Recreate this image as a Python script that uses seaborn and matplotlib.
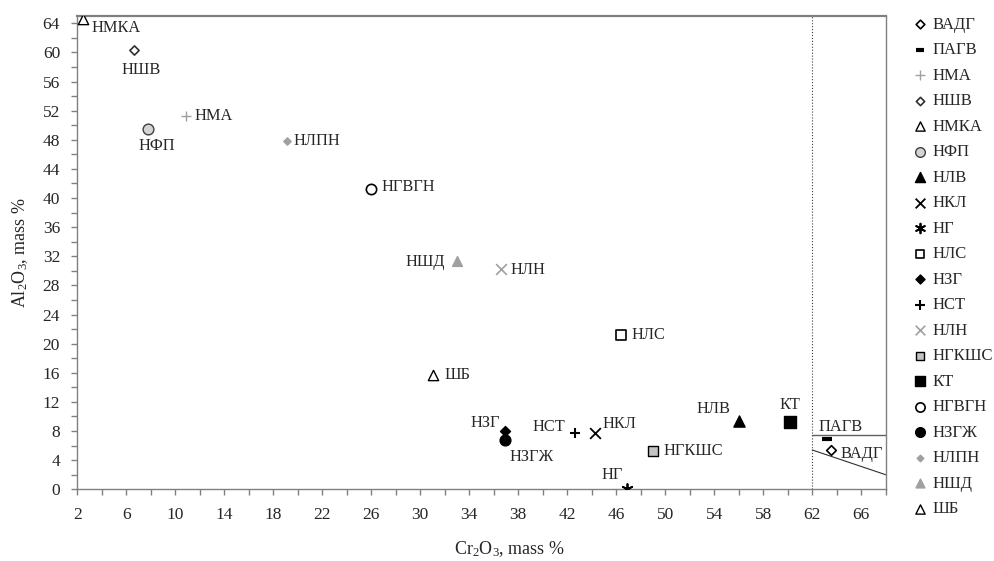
import numpy as np
import pandas as pd
import seaborn as sns
import matplotlib.pyplot as plt
from matplotlib.ticker import MultipleLocator, FixedLocator

# chromite groups (legend order)
names = ['ВАДГ', 'ПАГВ', 'НМА', 'НШВ', 'НМКА', 'НФП', 'НЛВ', 'НКЛ', 'НГ', 'НЛС',
         'НЗГ', 'НСТ', 'НЛН', 'НГКШС', 'КТ', 'НГВГН', 'НЗГЖ', 'НЛПН', 'НШД', 'ШБ']
cr2o3 = [63.5, 63.2, 10.9, 6.6, 2.5, 7.8, 56.0, 44.3, 46.9, 46.4,
         36.9, 42.6, 36.6, 49.0, 60.2, 26.0, 36.9, 19.1, 33.0, 31.0]
al2o3 = [5.4, 6.9, 51.2, 60.3, 64.6, 49.5, 9.4, 7.8, 0.1, 21.2,
         8.0, 7.8, 30.3, 5.3, 9.3, 41.2, 6.8, 47.9, 31.4, 15.7]

# field boundaries
cr_limit = 62
al_limit = 7.5
diag_y = [5.4, 2.0]

x_ticks = np.arange(2, 67, 4)
y_ticks = np.arange(0, 65, 4)

df = pd.DataFrame({'name': names, 'Cr2O3': cr2o3, 'Al2O3': al2o3})

gray = '#a0a0a0'
# marker, size, face, edge, linewidth
styles = {
    'ВАДГ': ('D', 24, 'white', 'black', 1.2),
    'ПАГВ': ('_', 50, 'black', None, 3.0),
    'НМА': ('+', 55, gray, None, 1.0),
    'НШВ': ('D', 22, 'white', '#303030', 1.2),
    'НМКА': ('^', 55, 'white', 'black', 1.0),
    'НФП': ('o', 60, '#d4d4d4', '#404040', 1.0),
    'НЛВ': ('^', 65, 'black', 'black', 1.0),
    'НКЛ': ('x', 60, 'black', None, 1.3),
    'НГ': ((6, 2, 0), 60, 'black', None, 1.3),
    'НЛС': ('s', 50, 'white', 'black', 1.2),
    'НЗГ': ('D', 26, 'black', 'black', 1.0),
    'НСТ': ('+', 60, 'black', None, 1.5),
    'НЛН': ('x', 60, gray, None, 1.2),
    'НГКШС': ('s', 50, '#c4c4c4', 'black', 1.0),
    'КТ': ('s', 65, 'black', 'black', 1.0),
    'НГВГН': ('o', 55, 'white', 'black', 1.2),
    'НЗГЖ': ('o', 60, 'black', 'black', 1.0),
    'НЛПН': ('D', 14, gray, gray, 1.0),
    'НШД': ('^', 50, gray, gray, 1.0),
    'ШБ': ('^', 55, 'white', 'black', 1.0),
}

# label offsets in pixels from the marker
label_pos = {
    'НМКА': (8, -9, 'left'), 'НШВ': (7, -20, 'center'), 'НМА': (8, 0, 'left'),
    'НФП': (8, -17, 'center'), 'НЛПН': (7, 0, 'left'), 'НГВГН': (10, 2, 'left'),
    'НШД': (-12, -1, 'right'), 'НЛН': (9, -1, 'left'), 'НЛС': (10, 0, 'left'),
    'ШБ': (12, 0, 'left'), 'НЗГ': (-5, 8, 'right'), 'НЗГЖ': (5, -17, 'left'),
    'НСТ': (-9, 6, 'right'), 'НКЛ': (7, 9, 'left'), 'НГ': (-4, 14, 'right'),
    'НГКШС': (10, 0, 'left'), 'НЛВ': (-8, 12, 'right'), 'КТ': (0, 17, 'center'),
    'ПАГВ': (14, 12, 'center'), 'ВАДГ': (10, -4, 'left'),
}

sns.set_style('ticks')
plt.rcParams['font.family'] = ['Liberation Serif', 'DejaVu Serif']
plt.rcParams['mathtext.fontset'] = 'custom'
plt.rcParams['mathtext.rm'] = 'Liberation Serif'
plt.rcParams['mathtext.it'] = 'Liberation Serif:italic'

fig = plt.figure(figsize=(9.95, 5.61), dpi=100)
ax = fig.add_axes([0.0777, 0.1278, 0.8125, 0.8437])

for i, row in df.iterrows():
    m, s, fc, ec, lw = styles[row['name']]
    kws = dict(marker=m, s=s, linewidth=lw, label=row['name'], ax=ax, zorder=3,
               legend=False, color=fc)
    if ec is not None:
        kws['edgecolor'] = ec
    sns.scatterplot(x=[row['Cr2O3']], y=[row['Al2O3']], **kws)
    dx, dy, ha = label_pos[row['name']]
    ax.annotate(row['name'], (row['Cr2O3'], row['Al2O3']), xytext=(dx, dy),
                textcoords='offset pixels', ha=ha, va='center', fontsize=11.75)

if ax.get_legend() is not None:
    ax.get_legend().remove()

ax.axvline(cr_limit, color='#404040', lw=0.8, ls=':', zorder=1)
ax.plot([cr_limit, 68], [al_limit, al_limit], color='#606060', lw=1.0)
ax.plot([cr_limit, 68], diag_y, color='#303030', lw=0.8)

ax.set_xlim(2, 68)
ax.set_ylim(0, 65)
ax.xaxis.set_major_locator(FixedLocator(x_ticks))
ax.xaxis.set_minor_locator(MultipleLocator(2))
ax.yaxis.set_major_locator(FixedLocator(y_ticks))
ax.yaxis.set_minor_locator(MultipleLocator(2))
ax.tick_params(which='both', direction='out', length=4, width=1, color='#808080',
               labelsize=12.5, pad=8.4)

for side, sp in ax.spines.items():
    sp.set_color('#808080')
    sp.set_linewidth(1.0)
ax.spines['top'].set_linewidth(1.6)

ax.set_xlabel(r'Cr$_2$O$_3$, mass %', fontsize=13)
ax.set_ylabel(r'Al$_2$O$_3$, mass %', fontsize=13)
ax.xaxis.set_label_coords(0.535, -0.105)
ax.yaxis.set_label_coords(-0.058, 0.5)

fig.legend(loc='upper left', bbox_to_anchor=(0.918, 0.970), frameon=False,
           borderpad=0, borderaxespad=0, handlelength=0.8, handletextpad=0.35,
           labelspacing=0.57, fontsize=12, markerscale=0.9)

fig.savefig('out.png', dpi=100)
